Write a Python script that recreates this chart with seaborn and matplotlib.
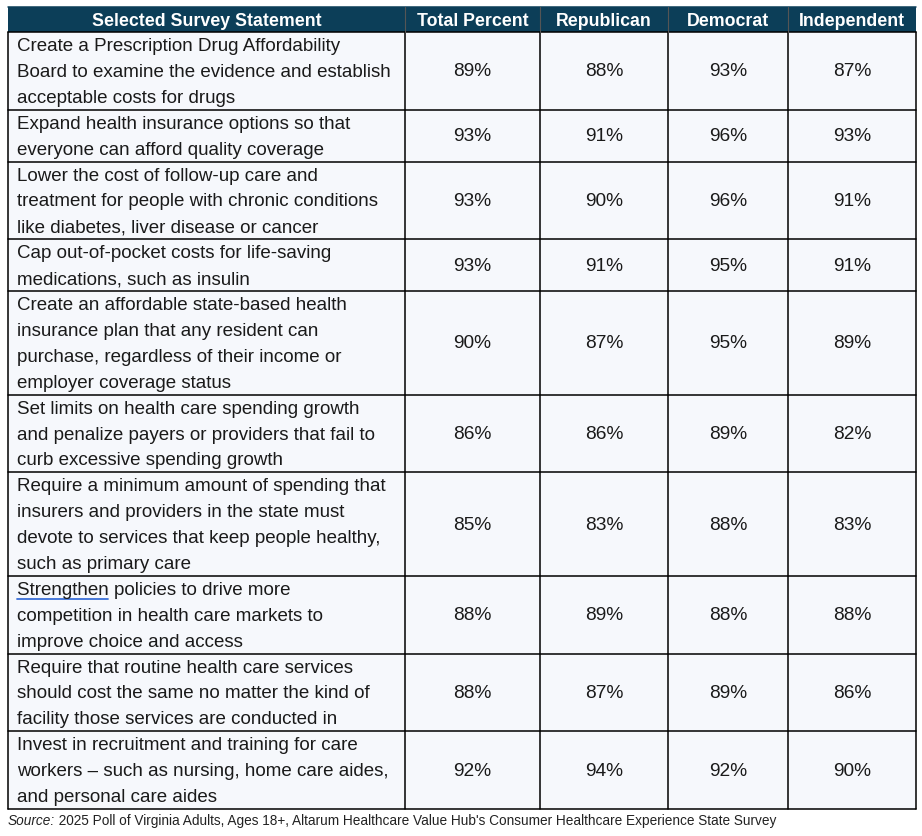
import matplotlib
matplotlib.use("Agg")
import matplotlib.pyplot as plt
from matplotlib.patches import Rectangle
import seaborn as sns

headers = ["Selected Survey Statement", "Total Percent", "Republican", "Democrat", "Independent"]

statements = [
    "Create a Prescription Drug Affordability\nBoard to examine the evidence and establish\nacceptable costs for drugs",
    "Expand health insurance options so that\neveryone can afford quality coverage",
    "Lower the cost of follow-up care and\ntreatment for people with chronic conditions\nlike diabetes, liver disease or cancer",
    "Cap out-of-pocket costs for life-saving\nmedications, such as insulin",
    "Create an affordable state-based health\ninsurance plan that any resident can\npurchase, regardless of their income or\nemployer coverage status",
    "Set limits on health care spending growth\nand penalize payers or providers that fail to\ncurb excessive spending growth",
    "Require a minimum amount of spending that\ninsurers and providers in the state must\ndevote to services that keep people healthy,\nsuch as primary care",
    "Strengthen policies to drive more\ncompetition in health care markets to\nimprove choice and access",
    "Require that routine health care services\nshould cost the same no matter the kind of\nfacility those services are conducted in",
    "Invest in recruitment and training for care\nworkers \u2013 such as nursing, home care aides,\nand personal care aides",
]

total_pct = [89, 93, 93, 93, 90, 86, 85, 88, 88, 92]
republican = [88, 91, 90, 91, 87, 86, 83, 89, 87, 94]
democrat = [93, 96, 96, 95, 95, 89, 88, 88, 89, 92]
independent = [87, 93, 91, 91, 89, 82, 83, 88, 86, 90]

underlined_word = "Strengthen"

source_label = "Source:"
source_text = " 2025 Poll of Virginia Adults, Ages 18+, Altarum Healthcare Value Hub's Consumer Healthcare Experience State Survey"

sns.set_theme(style="white")
plt.rcParams["font.family"] = ["Liberation Sans", "DejaVu Sans"]

W, H = 922, 837
fig = plt.figure(figsize=(W / 100, H / 100), dpi=100)
ax = fig.add_axes([0, 0, 1, 1])
ax.set_xlim(0, W)
ax.set_ylim(H, 0)
ax.axis("off")

col_edges = [8, 405, 540, 668, 788, 916]
header_top, header_bot = 8, 33
line_h = 25.9
header_color = "#0c3e58"
cell_color = "#f6f8fc"
text_color = "#1a1a1a"
body_fs = 13.5
pct_fs = 13.8

# header
ax.add_patch(Rectangle((col_edges[0], header_top), col_edges[-1] - col_edges[0],
                       header_bot - header_top, facecolor=header_color, edgecolor="none"))
for i, h in enumerate(headers):
    cx = (col_edges[i] + col_edges[i + 1]) / 2
    ax.text(cx, (header_top + header_bot) / 2 + 0.5, h, color="white", fontsize=12.8,
            fontweight="bold", ha="center", va="center")

inv = ax.transData.inverted()
values = list(zip(total_pct, republican, democrat, independent))
y = header_bot
row_edges = [y]
underline_spots = []
for stmt, vals in zip(statements, values):
    lines = stmt.split("\n")
    rh = len(lines) * line_h
    ax.add_patch(Rectangle((col_edges[0], y), col_edges[-1] - col_edges[0], rh,
                           facecolor=cell_color, edgecolor="none", zorder=0))
    for k, ln in enumerate(lines):
        ax.text(17, y + 13.5 + k * line_h, ln, fontsize=body_fs, color=text_color,
                ha="left", va="center")
        if ln.startswith(underlined_word):
            underline_spots.append(y + 13.5 + k * line_h)
    for j, v in enumerate(vals):
        cx = (col_edges[j + 1] + col_edges[j + 2]) / 2
        ax.text(cx, y + rh / 2, f"{v}%", fontsize=pct_fs, color=text_color,
                ha="center", va="center")
    y += rh
    row_edges.append(y)

# spell-check style underline
fig.canvas.draw()
for yy in underline_spots:
    tmp = ax.text(17, yy, underlined_word, fontsize=body_fs, ha="left", va="center", alpha=0)
    fig.canvas.draw()
    bb = tmp.get_window_extent()
    x0 = inv.transform((bb.x0, bb.y0))[0]
    x1 = inv.transform((bb.x1, bb.y0))[0]
    ax.plot([x0, x1 - 1], [yy + 9.5, yy + 9.5], color="#3a6fd8", lw=1.3)
    tmp.remove()

# grid lines
lw = 1.1
for yy in row_edges:
    ax.plot([col_edges[0], col_edges[-1]], [yy, yy], color="black", lw=lw)
ax.plot([col_edges[0], col_edges[-1]], [header_top, header_top], color=header_color, lw=lw)
for xx in col_edges:
    ax.plot([xx, xx], [header_bot, row_edges[-1]], color="black", lw=lw)
for xx in col_edges[1:-1]:
    ax.plot([xx, xx], [header_top, header_bot], color="#555555", lw=0.8)

# source
src_family = ["Liberation Sans Narrow", "Liberation Sans", "DejaVu Sans"]
t = ax.text(8, row_edges[-1] + 11, source_label, fontsize=9.8, style="italic",
            color="#222222", ha="left", va="center", family=src_family)
fig.canvas.draw()
bb = t.get_window_extent()
x_end = inv.transform((bb.x1, bb.y0))[0]
ax.text(x_end, row_edges[-1] + 11, source_text, fontsize=9.8,
        color="#222222", ha="left", va="center", family=src_family)

fig.savefig("out.png", dpi=100)
